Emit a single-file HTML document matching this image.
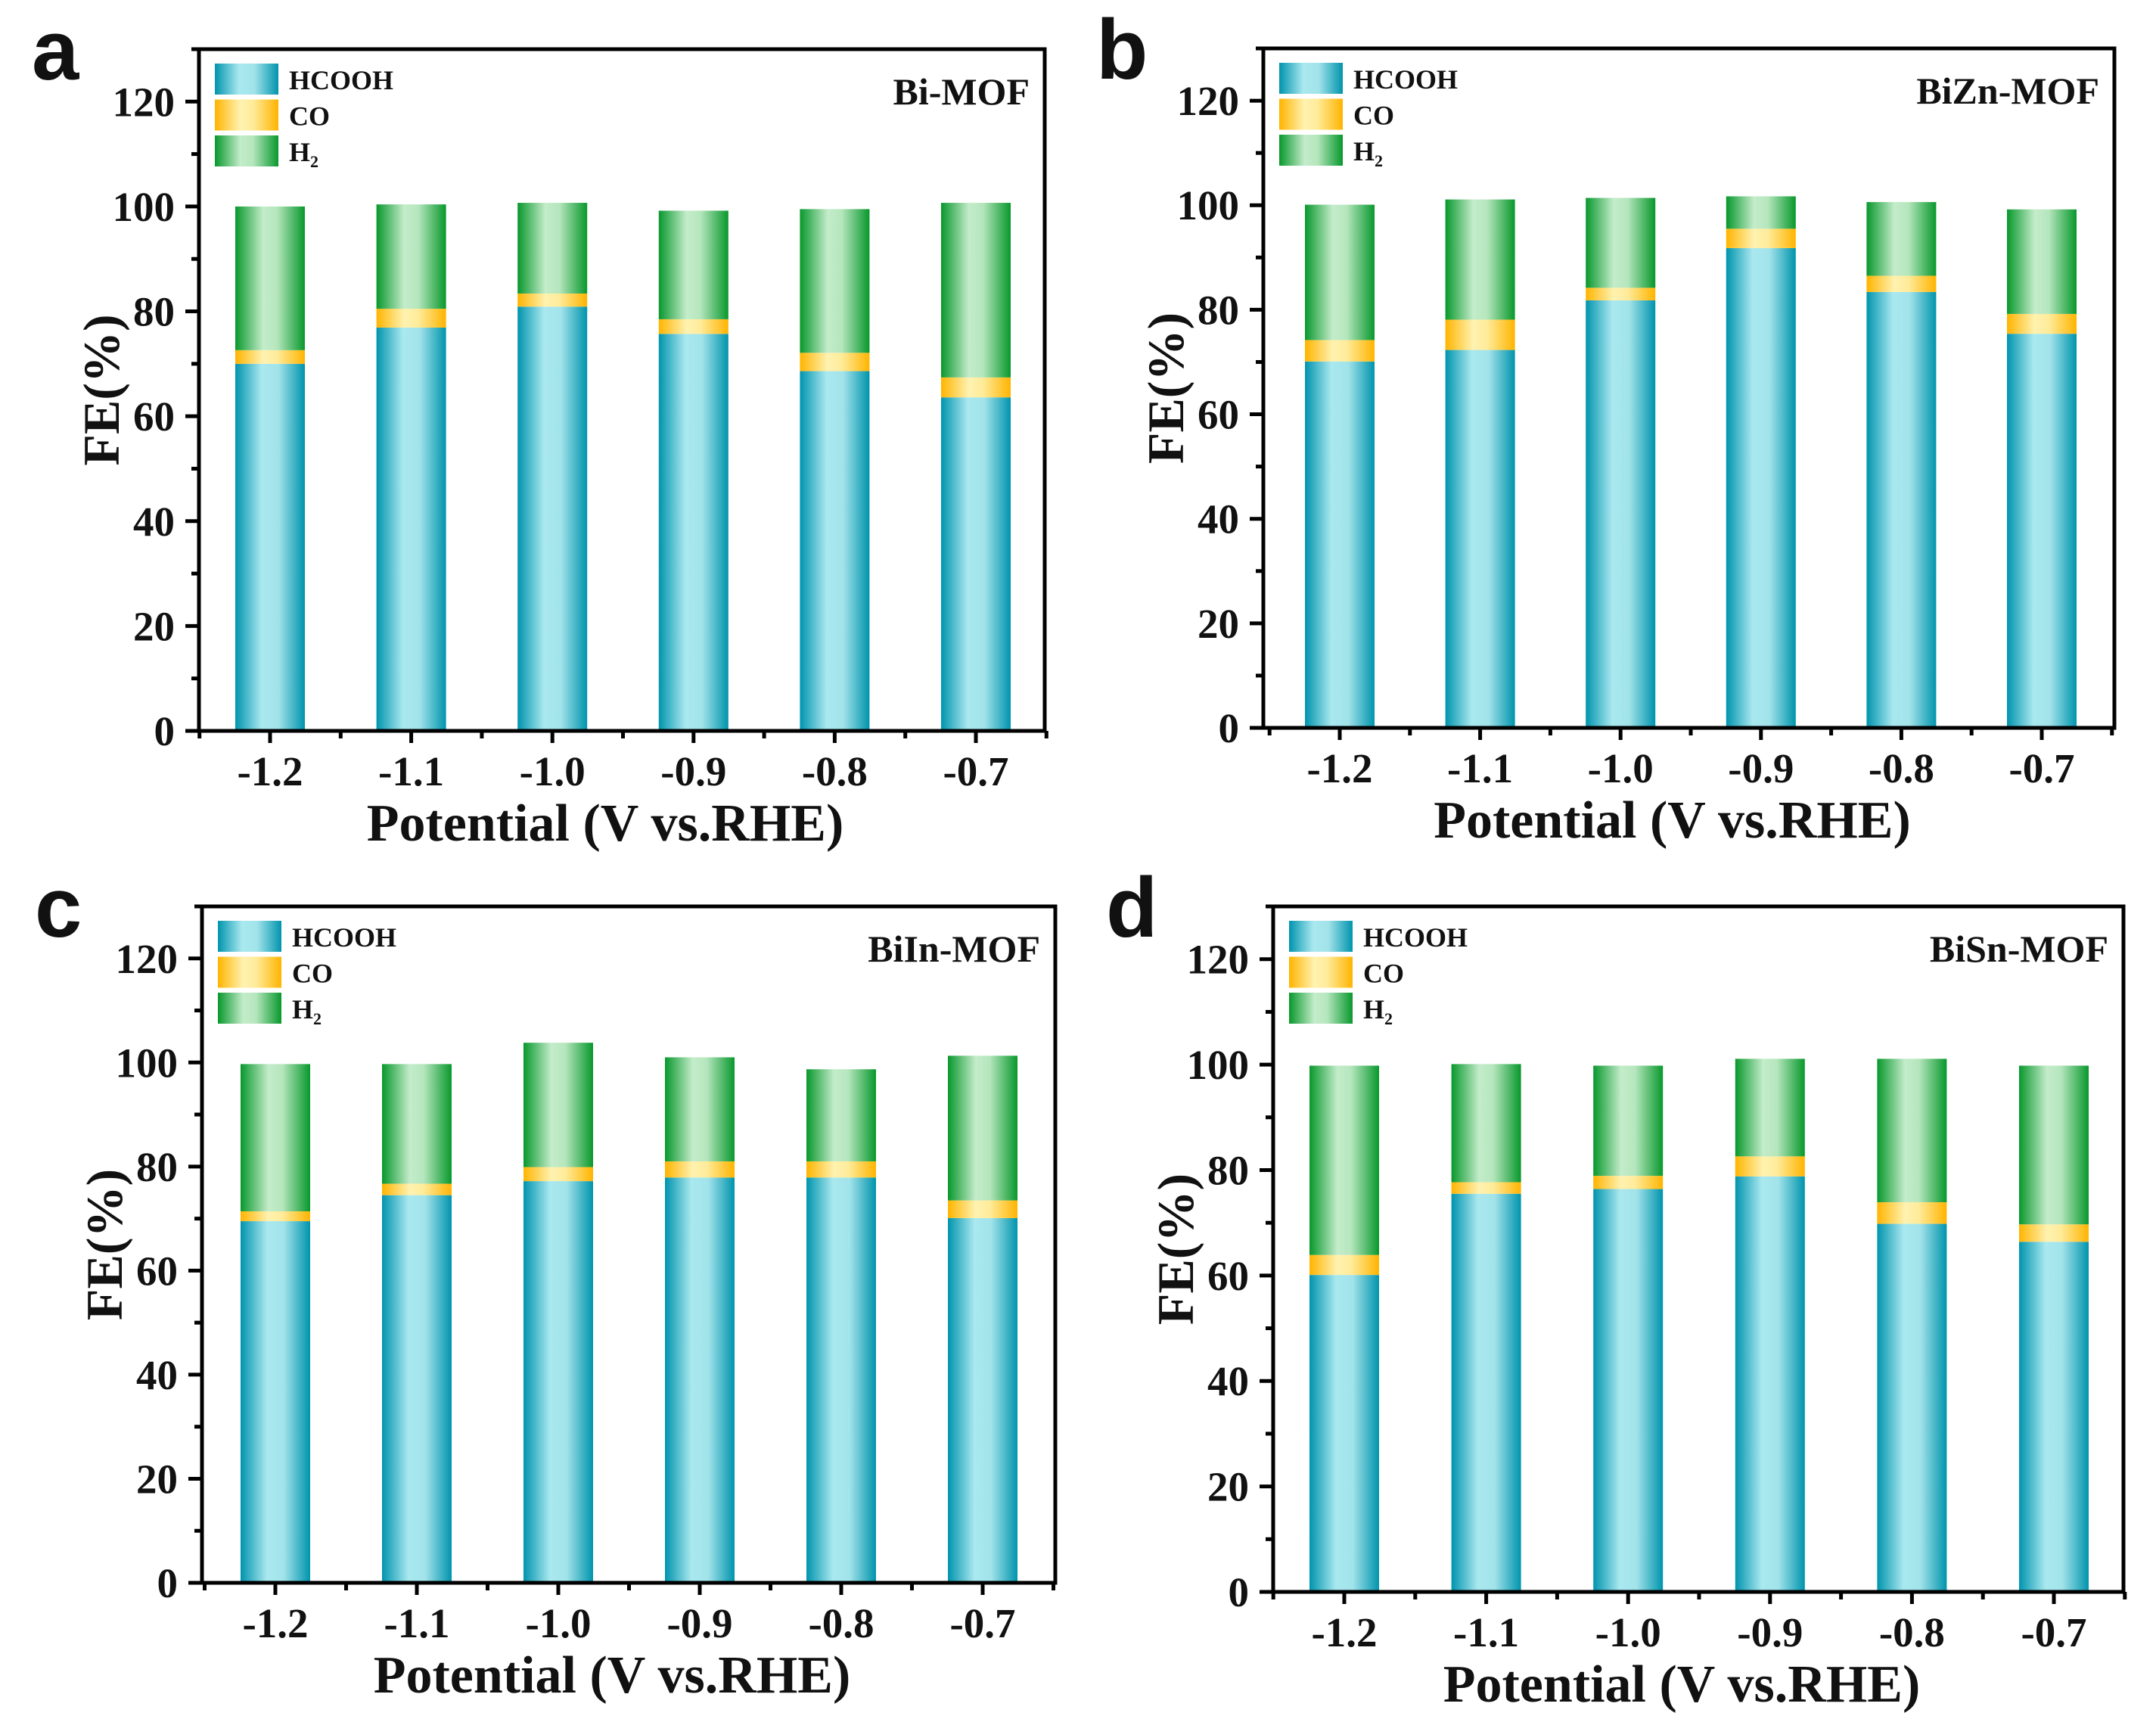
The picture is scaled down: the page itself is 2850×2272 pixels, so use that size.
<!DOCTYPE html>
<html><head><meta charset="utf-8"><style>
html,body{margin:0;padding:0;background:#fff;}
svg{display:block;}
text{font-family:"Liberation Serif","Times New Roman",serif;font-weight:bold;fill:#111;}
.lt{font-family:"Liberation Sans",Arial,sans-serif;}
</style></head><body>
<svg id="fig" width="2850" height="2272" viewBox="0 0 2850 2272" xmlns="http://www.w3.org/2000/svg">
<defs>
<linearGradient id="gH" x1="0" x2="1" y1="0" y2="0"><stop offset="0" stop-color="#0094ae"/><stop offset="0.38" stop-color="#a9e8ef"/><stop offset="0.62" stop-color="#a2e3ea"/><stop offset="1" stop-color="#0094ad"/></linearGradient>
<linearGradient id="gC" x1="0" x2="1" y1="0" y2="0"><stop offset="0" stop-color="#ffb400"/><stop offset="0.4" stop-color="#fff2b0"/><stop offset="0.6" stop-color="#ffeb9a"/><stop offset="1" stop-color="#ffb400"/></linearGradient>
<linearGradient id="gG" x1="0" x2="1" y1="0" y2="0"><stop offset="0" stop-color="#08982c"/><stop offset="0.4" stop-color="#c4ecca"/><stop offset="0.6" stop-color="#b5e6bd"/><stop offset="1" stop-color="#08982c"/></linearGradient>
</defs>
</svg>
<script>
const categories = ["-1.2","-1.1","-1.0","-0.9","-0.8","-0.7"];
const potentials = [-1.2,-1.1,-1.0,-0.9,-0.8,-0.7];
const yTicks = [0,20,40,60,80,100,120];
const panelNames = ["Bi-MOF","BiZn-MOF","BiIn-MOF","BiSn-MOF"];
const panelLetters = ["a","b","c","d"];
// HCOOH FE (%)
const hcoohA = [70.0,76.9,80.9,75.7,68.6,63.6];
const hcoohB = [70.1,72.3,81.8,91.8,83.4,75.4];
const hcoohC = [69.5,74.5,77.2,77.9,77.9,70.1];
const hcoohD = [60.1,75.5,76.4,78.8,69.8,66.4];
// CO FE (%)
const coA = [2.6,3.6,2.5,2.8,3.5,3.8];
const coB = [4.1,5.8,2.4,3.7,3.1,3.8];
const coC = [1.9,2.2,2.7,3.1,3.1,3.4];
const coD = [3.8,2.2,2.5,3.8,4.1,3.3];
// H2 FE (%)
const h2A = [27.4,19.9,17.3,20.7,27.4,33.3];
const h2B = [25.9,23.0,17.2,6.2,14.1,20.0];
const h2C = [28.3,23.0,23.9,20.0,17.7,27.8];
const h2D = [35.9,22.4,20.9,18.5,27.2,30.1];

const hcooh = [hcoohA,hcoohB,hcoohC,hcoohD];
const co = [coA,coB,coC,coD];
const h2 = [h2A,h2B,h2C,h2D];
const layouts = [
 {L:263,R:1381,T:65,B:966,c0:357,c5:1290},
 {L:1670,R:2795,T:64,B:962,c0:1771,c5:2699},
 {L:267,R:1395,T:1198,B:2092,c0:364,c5:1299},
 {L:1683,R:2807,T:1198,B:2104,c0:1777,c5:2715}
];
const NS="http://www.w3.org/2000/svg";
const svg=document.getElementById('fig');
function mk(tag,attrs,parent,txt){const e=document.createElementNS(NS,tag);for(const k in attrs)e.setAttribute(k,attrs[k]);if(txt!==undefined)e.textContent=txt;(parent||svg).appendChild(e);return e;}

layouts.forEach((p,i)=>{
  const g=mk('g',{});
  
  
  const yMax=130;
  const ys=v=>p.B-(v/yMax)*(p.B-p.T);
  const xs=v=>p.c0+(v-potentials[0])/(potentials[5]-potentials[0])*(p.c5-p.c0);
  const bw=92;
  // bars
  potentials.forEach((x,j)=>{
    const segs=[[0,hcooh[i][j],'url(#gH)','hcooh'],[hcooh[i][j],co[i][j],'url(#gC)','co'],[hcooh[i][j]+co[i][j],h2[i][j],'url(#gG)','h2']];
    segs.forEach(s=>{
      const r=mk('rect',{x:xs(x)-bw/2,y:ys(s[0]+s[1]),width:bw,height:ys(s[0])-ys(s[0]+s[1]),fill:s[2]},g);
      
      
    });
  });
  // frame
  const fr=mk('rect',{x:p.L,y:p.T,width:p.R-p.L,height:p.B-p.T,fill:'none',stroke:'#000','stroke-width':5},g);
  
  
  mk('line',{x1:p.L-18,x2:p.L,y1:p.B,y2:p.B,stroke:'#000','stroke-width':5},g);
  // y ticks
  for(let v=0;v<=yMax;v+=10){
    const major=v%20===0;
    mk('line',{x1:p.L-(major?18:10),x2:p.L,y1:ys(v),y2:ys(v),stroke:'#000','stroke-width':5},g);
  }
  yTicks.forEach(v=>{
    const t=mk('text',{x:p.L-32,y:ys(v)+19,'font-size':55,'text-anchor':'end'},g,String(v));
    
    
  });
  // x ticks
  potentials.forEach((x,j)=>{
    mk('line',{x1:xs(x),x2:xs(x),y1:p.B,y2:p.B+16,stroke:'#000','stroke-width':5},g);
    mk('line',{x1:xs(x+0.05),x2:xs(x+0.05),y1:p.B,y2:p.B+10,stroke:'#000','stroke-width':5},g);
    if(j===0) mk('line',{x1:xs(x-0.05),x2:xs(x-0.05),y1:p.B,y2:p.B+10,stroke:'#000','stroke-width':5},g);
    const t=mk('text',{x:xs(x),y:p.B+72,'font-size':55,'text-anchor':'middle'},g,categories[j]);
    
    
  });
  // axis titles
  const xt=mk('text',{x:(p.L+p.R)/2-22,y:p.B+145,'font-size':70,'text-anchor':'middle'},g,'Potential (V vs.RHE)');
  
  
  const cy=(p.T+p.B)/2;
  const yt=mk('text',{x:p.L-130,y:cy,'font-size':68,'text-anchor':'middle',transform:`rotate(-90 ${p.L-130} ${cy})`,dy:24},g,'FE(%)');
  
  
  // panel letter
  const pl=mk('text',{x:p.L-221,y:p.T+40,'font-size':112,'class':'lt'},g,panelLetters[i]);
  
  
  // sample name
  const st=mk('text',{x:p.R-20,y:p.T+73,'font-size':50,'text-anchor':'end'},g,panelNames[i]);
  
  
  // legend
  const leg=[['url(#gH)','HCOOH'],['url(#gC)','CO'],['url(#gG)','H']];
  leg.forEach((l,k)=>{
    const yy=p.T+19+k*47.5;
    const sw=mk('rect',{x:p.L+21,y:yy,width:84,height:41,fill:l[0]},g);
    
    
    const lt=mk('text',{x:p.L+119,y:yy+34,'font-size':36},g,l[1]);
    
    
    if(k===2){mk('tspan',{'font-size':22,dy:8},lt,'2');}
  });
});
</script>
</body></html>
